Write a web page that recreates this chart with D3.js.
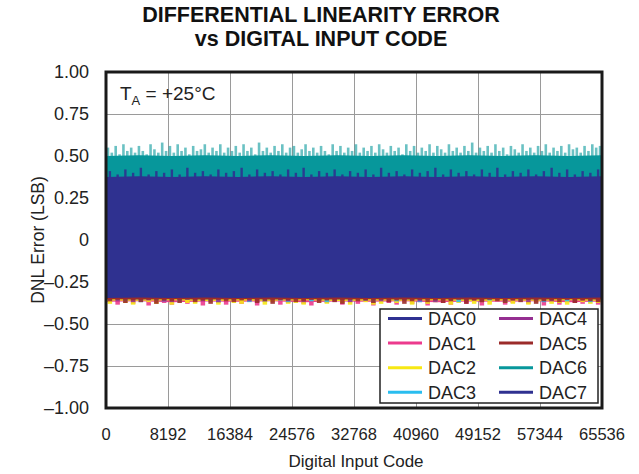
<!DOCTYPE html>
<html>
<head>
<meta charset="utf-8">
<script src="https://cdn.jsdelivr.net/npm/d3@7"></script>
<style>
  html, body { margin: 0; padding: 0; background: #fff; }
  svg { display: block; font-family: "Liberation Sans", Arial, Helvetica, sans-serif; }
</style>
</head>
<body>
<svg id="chart" width="639" height="474"></svg>
<script>
// ---- data ----
const titleLines = ["DIFFERENTIAL LINEARITY ERROR", "vs DIGITAL INPUT CODE"];
const xTicks = [0, 8192, 16384, 24576, 32768, 40960, 49152, 57344, 65536];
const yTicks = [1.00, 0.75, 0.50, 0.25, 0, -0.25, -0.50, -0.75, -1.00];
const yTickLabels = ["1.00", "0.75", "0.50", "0.25", "0", "\u20130.25", "\u20130.50", "\u20130.75", "\u20131.00"];
const seriesNames = ["DAC0", "DAC1", "DAC2", "DAC3", "DAC4", "DAC5", "DAC6", "DAC7"];
const seriesColors = ["#2e3192", "#ec3a8d", "#f7e814", "#29bdef", "#952f91", "#9b2b2a", "#07979b", "#2f3190"];

// dense (typical) DNL envelope per DAC, evenly spread over codes 0..65535
const dac0Hi = [0.37,0.375,0.37,0.375,0.37,0.375,0.37,0.375,0.37,0.375,0.37,0.375,0.37,0.375,0.37,0.375];
const dac0Lo = [-0.34,-0.335,-0.34,-0.335,-0.34,-0.335,-0.34,-0.335,-0.34,-0.335,-0.34,-0.335,-0.34,-0.335,-0.34,-0.335];
const dac1Hi = [0.46,0.47,0.46,0.47,0.46,0.47,0.46,0.47,0.46,0.47,0.46,0.47,0.46,0.47,0.46,0.47];
const dac1Lo = [-0.368,-0.365,-0.37,-0.366,-0.368,-0.365,-0.37,-0.366,-0.368,-0.365,-0.37,-0.366,-0.368,-0.365,-0.37,-0.366];
const dac2Hi = [0.47,0.46,0.47,0.46,0.47,0.46,0.47,0.46,0.47,0.46,0.47,0.46,0.47,0.46,0.47,0.46];
const dac2Lo = [-0.36,-0.362,-0.359,-0.363,-0.36,-0.362,-0.359,-0.363,-0.36,-0.362,-0.359,-0.363,-0.36,-0.362,-0.359,-0.363];
const dac3Hi = [0.47,0.48,0.47,0.48,0.47,0.48,0.47,0.48,0.47,0.48,0.47,0.48,0.47,0.48,0.47,0.48];
const dac3Lo = [-0.35,-0.352,-0.35,-0.352,-0.35,-0.352,-0.35,-0.352,-0.35,-0.352,-0.35,-0.352,-0.35,-0.352,-0.35,-0.352];
const dac4Hi = [0.46,0.47,0.46,0.47,0.46,0.47,0.46,0.47,0.46,0.47,0.46,0.47,0.46,0.47,0.46,0.47];
const dac4Lo = [-0.35,-0.351,-0.35,-0.351,-0.35,-0.351,-0.35,-0.351,-0.35,-0.351,-0.35,-0.351,-0.35,-0.351,-0.35,-0.351];
const dac5Hi = [0.47,0.46,0.47,0.46,0.47,0.46,0.47,0.46,0.47,0.46,0.47,0.46,0.47,0.46,0.47,0.46];
const dac5Lo = [-0.352,-0.354,-0.352,-0.354,-0.352,-0.354,-0.352,-0.354,-0.352,-0.354,-0.352,-0.354,-0.352,-0.354,-0.352,-0.354];
const dac6Hi = [0.50,0.505,0.50,0.505,0.50,0.505,0.50,0.505,0.50,0.505,0.50,0.505,0.50,0.505,0.50,0.505];
const dac6Lo = [-0.33,-0.325,-0.33,-0.325,-0.33,-0.325,-0.33,-0.325,-0.33,-0.325,-0.33,-0.325,-0.33,-0.325,-0.33,-0.325];
const dac7Hi = [0.375,0.38,0.375,0.38,0.375,0.38,0.375,0.38,0.375,0.38,0.375,0.38,0.375,0.38,0.375,0.38];
const dac7Lo = [-0.345,-0.343,-0.345,-0.343,-0.345,-0.343,-0.345,-0.343,-0.345,-0.343,-0.345,-0.343,-0.345,-0.343,-0.345,-0.343];

// sparse peak excursions (drawn as thin spikes beyond the dense band)
const dac6Peak = [0.55,0.52,0.56,0.51,0.57,0.53,0.55,0.52,0.56,0.53,0.51,0.57,0.54,0.52,0.58,0.53,
                  0.56,0.52,0.57,0.53,0.55,0.51,0.56,0.53,0.54,0.57,0.52,0.55,0.53,0.57,0.52,0.55,
                  0.53,0.56,0.52,0.57,0.53,0.55,0.51,0.58,0.53,0.55,0.52,0.56,0.53,0.57,0.52,0.55,
                  0.56,0.52,0.54,0.57,0.53,0.55,0.52,0.56,0.53,0.51,0.57,0.53,0.56,0.52,0.55,0.53,
                  0.57,0.52,0.55,0.53,0.56,0.52,0.57,0.54,0.52,0.56,0.53,0.55,0.51,0.57,0.53,0.56,
                  0.52,0.55,0.53,0.57,0.52,0.56,0.54,0.52,0.57,0.53,0.55,0.52,0.56,0.53,0.58,0.52,
                  0.55,0.53,0.56,0.52,0.57,0.53,0.55,0.51,0.56,0.54,0.52,0.57,0.53,0.55,0.52,0.56,
                  0.53,0.57,0.52,0.55,0.53,0.56,0.52,0.57,0.54,0.55,0.52,0.56,0.53,0.57,0.55,0.56];
const dac7Peak = [0.41,0.39,0.42,0.40,0.43,0.39,0.41,0.40,0.42,0.39,0.43,0.40,0.41,0.39,0.42,0.40,
                  0.41,0.43,0.39,0.42,0.40,0.41,0.39,0.42,0.40,0.43,0.39,0.41,0.40,0.42,0.39,0.41,
                  0.40,0.42,0.39,0.43,0.40,0.41,0.39,0.42,0.40,0.41,0.43,0.39,0.42,0.40,0.41,0.39,
                  0.42,0.40,0.43,0.39,0.41,0.40,0.42,0.39,0.41,0.43,0.40,0.42,0.39,0.41,0.40,0.42];
const dac1Dip = [-0.37,-0.385,-0.36,-0.38,-0.365,-0.39,-0.36,-0.375,-0.385,-0.36,-0.38,-0.37,-0.39,-0.36,-0.375,-0.385,
                 -0.365,-0.38,-0.36,-0.39,-0.37,-0.36,-0.385,-0.375,-0.36,-0.38,-0.39,-0.365,-0.375,-0.36,-0.385,-0.37,
                 -0.38,-0.36,-0.39,-0.365,-0.375,-0.385,-0.36,-0.38,-0.37,-0.39,-0.36,-0.375,-0.385,-0.365,-0.38,-0.36,
                 -0.39,-0.37,-0.36,-0.385,-0.375,-0.365,-0.38,-0.36,-0.39,-0.37,-0.385,-0.36,-0.375,-0.38,-0.365,-0.385];
const dac2Dip = [-0.38,-0.36,-0.375,-0.385,-0.355,-0.37,-0.38,-0.36,-0.385,-0.365,-0.375,-0.38,-0.355,-0.37,-0.385,-0.36,
                 -0.375,-0.38,-0.365,-0.355,-0.385,-0.37,-0.36,-0.38,-0.375,-0.385,-0.36,-0.37,-0.38,-0.355,-0.375,-0.385,
                 -0.36,-0.37,-0.385,-0.38,-0.355,-0.375,-0.365,-0.385,-0.36,-0.38,-0.37,-0.355,-0.385,-0.375,-0.36,-0.38,
                 -0.37,-0.385,-0.36,-0.375,-0.38,-0.355,-0.385,-0.37,-0.36,-0.38,-0.375,-0.385,-0.36,-0.37,-0.38,-0.375];
const dac3Dip = [-0.36,-0.35,-0.365,-0.355,-0.37,-0.35,-0.36,-0.365,-0.35,-0.37,-0.355,-0.36,-0.35,-0.365,-0.37,-0.355,
                 -0.36,-0.35,-0.37,-0.355,-0.365,-0.35,-0.36,-0.37,-0.355,-0.35,-0.365,-0.36,-0.37,-0.35,-0.355,-0.365,
                 -0.35,-0.36,-0.37,-0.355,-0.35,-0.365,-0.36,-0.35,-0.37,-0.355,-0.365,-0.35,-0.36,-0.37,-0.355,-0.35,
                 -0.365,-0.36,-0.35,-0.37,-0.355,-0.365,-0.35,-0.36,-0.37,-0.35,-0.355,-0.365,-0.36,-0.35,-0.37,-0.36];
const dac4Dip = [-0.355,-0.365,-0.35,-0.37,-0.355,-0.36,-0.35,-0.365,-0.37,-0.355,-0.35,-0.36,-0.365,-0.35,-0.37,-0.355,
                 -0.36,-0.35,-0.365,-0.37,-0.35,-0.355,-0.36,-0.365,-0.35,-0.37,-0.355,-0.36,-0.35,-0.365,-0.355,-0.37,
                 -0.35,-0.36,-0.355,-0.365,-0.37,-0.35,-0.36,-0.355,-0.365,-0.35,-0.37,-0.36,-0.355,-0.35,-0.365,-0.36,
                 -0.37,-0.35,-0.355,-0.365,-0.36,-0.35,-0.37,-0.355,-0.36,-0.365,-0.35,-0.355,-0.37,-0.36,-0.35,-0.365];
const dac5Dip = [-0.365,-0.355,-0.375,-0.36,-0.37,-0.355,-0.38,-0.36,-0.365,-0.375,-0.355,-0.37,-0.36,-0.38,-0.355,-0.365,
                 -0.37,-0.36,-0.355,-0.375,-0.365,-0.38,-0.355,-0.36,-0.37,-0.365,-0.355,-0.375,-0.36,-0.37,-0.38,-0.355,
                 -0.365,-0.36,-0.375,-0.355,-0.37,-0.36,-0.38,-0.365,-0.355,-0.37,-0.36,-0.375,-0.365,-0.355,-0.38,-0.36,
                 -0.37,-0.355,-0.365,-0.375,-0.36,-0.37,-0.355,-0.38,-0.365,-0.36,-0.37,-0.355,-0.375,-0.36,-0.365,-0.37];

const envHi = [dac0Hi, dac1Hi, dac2Hi, dac3Hi, dac4Hi, dac5Hi, dac6Hi, dac7Hi];
const envLo = [dac0Lo, dac1Lo, dac2Lo, dac3Lo, dac4Lo, dac5Lo, dac6Lo, dac7Lo];
// spikes: [series index, values, base (dense edge) value]
const spikeSets = [
  [1, dac1Dip, -0.35], [2, dac2Dip, -0.35], [3, dac3Dip, -0.35], [4, dac4Dip, -0.35], [5, dac5Dip, -0.35],
  [6, dac6Peak, 0.495], [7, dac7Peak, 0.37]
];

// ---- layout ----
const svg = d3.select("#chart");
const plot = { left: 106, right: 602, top: 72, bottom: 408 };
const x = d3.scaleLinear().domain([0, 65536]).range([plot.left, plot.right]);
const y = d3.scaleLinear().domain([-1, 1]).range([plot.bottom, plot.top]);
const codeAt = (i, n) => (i + 0.5) / n * 65536;

// title
svg.append("g").selectAll("text").data(titleLines).join("text")
  .attr("x", 321).attr("y", (d, i) => 22 + i * 24)
  .attr("text-anchor", "middle")
  .attr("font-size", 21.5).attr("font-weight", "bold").attr("fill", "#111")
  .text(d => d);

// grid
const grid = svg.append("g").attr("stroke", "#9a9a9a").attr("stroke-width", 1);
grid.selectAll("line.v").data(xTicks.slice(1, -1)).join("line")
  .attr("x1", d => Math.round(x(d)) + 0.5).attr("x2", d => Math.round(x(d)) + 0.5)
  .attr("y1", plot.top).attr("y2", plot.bottom);
grid.selectAll("line.h").data(yTicks.slice(1, -1)).join("line")
  .attr("y1", d => Math.round(y(d)) + 0.5).attr("y2", d => Math.round(y(d)) + 0.5)
  .attr("x1", plot.left).attr("x2", plot.right);

// data (clip to plot)
svg.append("clipPath").attr("id", "clip").append("rect")
  .attr("x", plot.left).attr("y", plot.top)
  .attr("width", plot.right - plot.left).attr("height", plot.bottom - plot.top);
const bands = svg.append("g").attr("clip-path", "url(#clip)");
const area = d3.area().x(d => x(d.c)).y0(d => y(d.lo)).y1(d => y(d.hi)).curve(d3.curveLinear);

function drawSpikes(set) {
  const [k, vals, base] = set;
  const isTeal = k === 6, isTop = k >= 6;
  bands.append("g").selectAll("line").data(vals).join("line")
    .attr("x1", (d, i) => x(codeAt(i, vals.length)))
    .attr("x2", (d, i) => x(codeAt(i, vals.length)))
    .attr("y1", y(base)).attr("y2", d => y(d))
    .attr("stroke", seriesColors[k])
    .attr("stroke-width", isTeal ? 2.6 : (isTop ? 2.4 : 4.5))
    .attr("stroke-opacity", isTeal ? 0.6 : 0.9);
}

seriesNames.forEach((name, k) => {
  spikeSets.filter(s => s[0] === k).forEach(drawSpikes);
  const hi = envHi[k], lo = envLo[k];
  const pts = hi.map((v, i) => ({ c: i / (hi.length - 1) * 65536, hi: v, lo: lo[i] }));
  bands.append("path").attr("d", area(pts)).attr("fill", seriesColors[k]);
});

// frame
svg.append("rect")
  .attr("x", plot.left).attr("y", plot.top)
  .attr("width", plot.right - plot.left).attr("height", plot.bottom - plot.top)
  .attr("fill", "none").attr("stroke", "#1a1a1a").attr("stroke-width", 3);

// y tick labels
svg.append("g").selectAll("text").data(yTicks).join("text")
  .attr("x", 89).attr("y", d => y(d)).attr("dy", "0.36em")
  .attr("text-anchor", "end").attr("font-size", 18).attr("fill", "#222")
  .text((d, i) => yTickLabels[i]);

// x tick labels
svg.append("g").selectAll("text").data(xTicks).join("text")
  .attr("x", d => x(d)).attr("y", 440)
  .attr("text-anchor", "middle").attr("font-size", 16.5).attr("fill", "#222")
  .text(d => d);

// axis titles
svg.append("text").attr("x", 356).attr("y", 467)
  .attr("text-anchor", "middle").attr("font-size", 17).attr("fill", "#222")
  .text("Digital Input Code");
svg.append("text")
  .attr("transform", `translate(44, ${(plot.top + plot.bottom) / 2}) rotate(-90)`)
  .attr("text-anchor", "middle").attr("font-size", 17.5).attr("fill", "#222")
  .text("DNL Error (LSB)");

// annotation
const ann = svg.append("text").attr("x", 120).attr("y", 100).attr("font-size", 19).attr("fill", "#222");
ann.append("tspan").text("T");
ann.append("tspan").attr("font-size", 13).attr("dy", 5).text("A");
ann.append("tspan").attr("dy", -5).text(" = +25°C");

// legend
const lg = svg.append("g");
lg.append("rect").attr("x", 380).attr("y", 309).attr("width", 218).attr("height", 94)
  .attr("fill", "#fff").attr("stroke", "#222").attr("stroke-width", 1.5);
seriesNames.forEach((name, k) => {
  const col = Math.floor(k / 4), row = k % 4;
  const lx = 388 + col * 111, ly = 318.5 + row * 24.6;
  lg.append("line").attr("x1", lx).attr("x2", lx + 34).attr("y1", ly).attr("y2", ly)
    .attr("stroke", seriesColors[k]).attr("stroke-width", 3);
  lg.append("text").attr("x", lx + 40).attr("y", ly).attr("dy", "0.36em")
    .attr("font-size", 18).attr("fill", "#222").text(name);
});
</script>
</body>
</html>
